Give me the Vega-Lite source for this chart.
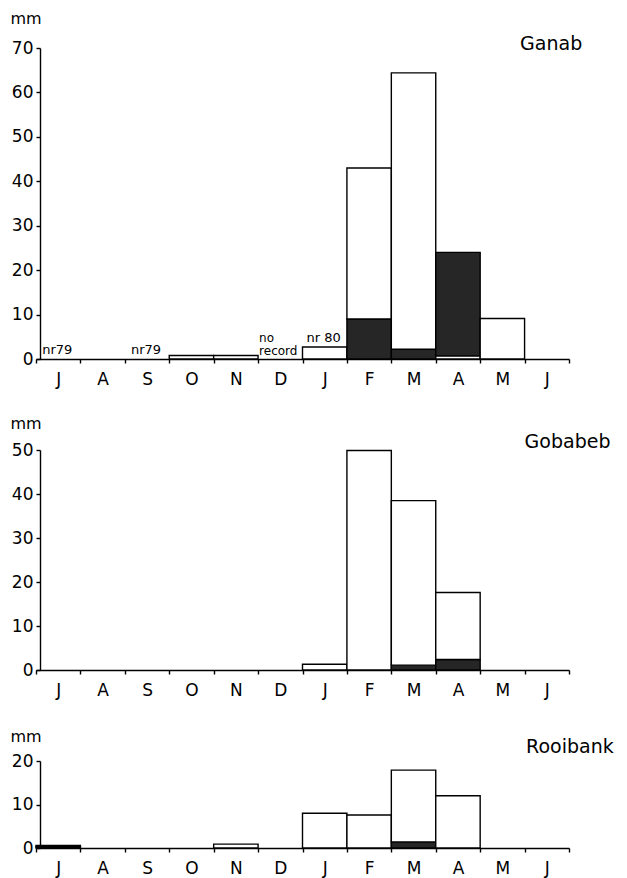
{
  "$schema": "https://vega.github.io/schema/vega-lite/v6.json",
  "background": "white",
  "padding": {"left": 10, "top": 10, "right": 5, "bottom": 5},
  "bounds": "flush",
  "spacing": 91,
  "resolve": {"scale": {"x": "independent", "y": "independent"}},
  "config": {
    "view": {"stroke": null},
    "font": "DejaVu Sans",
    "axis": {
      "domainColor": "black", "domainWidth": 1.4,
      "tickColor": "black", "tickWidth": 1.4, "tickSize": 4,
      "labelColor": "black", "labelFont": "DejaVu Sans", "labelFontSize": 17,
      "grid": false,
      "titleFont": "DejaVu Sans", "titleFontSize": 16, "titleFontWeight": "normal", "titleColor": "black"
    },
    "axisX": {"labelPadding": 8, "labelAngle": 0},
    "axisY": {"labelPadding": 3}
  },
  "datasets": {
    "bars": [
      {"s": "Ganab", "m": "Oct", "lo": 0, "hi": 0.8, "part": "light"},
      {"s": "Ganab", "m": "Nov", "lo": 0, "hi": 0.8, "part": "light"},
      {"s": "Ganab", "m": "Jan", "lo": 0, "hi": 2.7, "part": "light"},
      {"s": "Ganab", "m": "Feb", "lo": 0, "hi": 9, "part": "dark"},
      {"s": "Ganab", "m": "Feb", "lo": 9, "hi": 43, "part": "light"},
      {"s": "Ganab", "m": "Mar", "lo": 0, "hi": 2.2, "part": "dark"},
      {"s": "Ganab", "m": "Mar", "lo": 2.2, "hi": 64.4, "part": "light"},
      {"s": "Ganab", "m": "Apr", "lo": 0, "hi": 0.7, "part": "light"},
      {"s": "Ganab", "m": "Apr", "lo": 0.7, "hi": 24, "part": "dark"},
      {"s": "Ganab", "m": "May", "lo": 0, "hi": 9.1, "part": "light"},
      {"s": "Gobabeb", "m": "Jan", "lo": 0, "hi": 1.3, "part": "light"},
      {"s": "Gobabeb", "m": "Feb", "lo": 0, "hi": 49.9, "part": "light"},
      {"s": "Gobabeb", "m": "Mar", "lo": 0, "hi": 1.1, "part": "dark"},
      {"s": "Gobabeb", "m": "Mar", "lo": 1.1, "hi": 38.5, "part": "light"},
      {"s": "Gobabeb", "m": "Apr", "lo": 0, "hi": 2.4, "part": "dark"},
      {"s": "Gobabeb", "m": "Apr", "lo": 2.4, "hi": 17.6, "part": "light"},
      {"s": "Rooibank", "m": "Jul", "lo": 0, "hi": 0.3, "part": "dark"},
      {"s": "Rooibank", "m": "Jul", "lo": 0.3, "hi": 0.6, "part": "light"},
      {"s": "Rooibank", "m": "Nov", "lo": 0, "hi": 0.9, "part": "light"},
      {"s": "Rooibank", "m": "Jan", "lo": 0, "hi": 8.0, "part": "light"},
      {"s": "Rooibank", "m": "Feb", "lo": 0, "hi": 7.6, "part": "light"},
      {"s": "Rooibank", "m": "Mar", "lo": 0, "hi": 1.4, "part": "dark"},
      {"s": "Rooibank", "m": "Mar", "lo": 1.4, "hi": 17.9, "part": "light"},
      {"s": "Rooibank", "m": "Apr", "lo": 0, "hi": 12.0, "part": "light"}
    ],
    "notes": [
      {"m": "Jul", "mm": 0, "label": "nr79", "kind": "c"},
      {"m": "Sep", "mm": 0, "label": "nr79", "kind": "c"},
      {"m": "Jan", "mm": 2.7, "label": "nr 80", "kind": "c"},
      {"m": "Dec", "mm": 0, "label": "no\nrecord", "kind": "l"}
    ],
    "stations": [
      {"s": "Ganab", "m": "Jun", "mm": 70},
      {"s": "Gobabeb", "m": "Jun", "mm": 50},
      {"s": "Rooibank", "m": "Jun", "mm": 20}
    ]
  },
  "vconcat": [
    {
      "width": 533, "height": 311,
      "layer": [
        {
          "data": {"name": "bars"},
          "transform": [{"filter": "datum.s === 'Ganab'"}],
          "mark": {"type": "bar", "stroke": "black", "strokeWidth": 1.4},
          "encoding": {
            "x": {"field": "m", "type": "ordinal", "title": null,
              "scale": {"domain": ["Jul","Aug","Sep","Oct","Nov","Dec","Jan","Feb","Mar","Apr","May","Jun"], "paddingInner": 0, "paddingOuter": 0},
              "axis": {"tickBand": "extent", "labelExpr": "substring(datum.label, 0, 1)"}},
            "y": {"field": "hi", "type": "quantitative", "title": "mm",
              "scale": {"domain": [0, 70], "nice": false},
              "axis": {"values": [0,10,20,30,40,50,60,70], "offset": -4, "titleAngle": 0, "titleX": -30, "titleY": -25, "titleAlign": "left", "titleBaseline": "alphabetic"}},
            "y2": {"field": "lo"},
            "fill": {"field": "part", "type": "nominal", "scale": {"domain": ["light", "dark"], "range": ["white", "#262626"]}, "legend": null}
          }
        },
        {
          "data": {"name": "notes"},
          "transform": [{"filter": "datum.kind === 'c'"}],
          "mark": {"type": "text", "font": "DejaVu Sans", "fontSize": 13, "color": "black", "align": "center", "baseline": "bottom", "dx": -1, "dy": -2},
          "encoding": {
            "x": {"field": "m", "type": "ordinal", "title": null},
            "y": {"field": "mm", "type": "quantitative", "title": "mm"},
            "text": {"field": "label"}
          }
        },
        {
          "data": {"name": "notes"},
          "transform": [{"filter": "datum.kind === 'l'"}],
          "mark": {"type": "text", "font": "DejaVu Sans", "fontSize": 12, "color": "black", "align": "left", "baseline": "bottom", "dx": 1, "dy": -14, "lineBreak": "\n", "lineHeight": 12.5},
          "encoding": {
            "x": {"field": "m", "type": "ordinal", "title": null, "bandPosition": 0},
            "y": {"field": "mm", "type": "quantitative", "title": "mm"},
            "text": {"field": "label"}
          }
        },
        {
          "data": {"name": "stations"},
          "transform": [{"filter": "datum.s === 'Ganab'"}],
          "mark": {"type": "text", "font": "DejaVu Sans", "fontSize": 19, "color": "black", "align": "left", "baseline": "alphabetic", "dx": -4.5, "dy": 2},
          "encoding": {
            "x": {"field": "m", "type": "ordinal", "title": null, "bandPosition": 0},
            "y": {"field": "mm", "type": "quantitative", "title": "mm"},
            "text": {"field": "s"}
          }
        }
      ]
    },
    {
      "width": 533, "height": 220,
      "layer": [
        {
          "data": {"name": "bars"},
          "transform": [{"filter": "datum.s === 'Gobabeb'"}],
          "mark": {"type": "bar", "stroke": "black", "strokeWidth": 1.4},
          "encoding": {
            "x": {"field": "m", "type": "ordinal", "title": null,
              "scale": {"domain": ["Jul","Aug","Sep","Oct","Nov","Dec","Jan","Feb","Mar","Apr","May","Jun"], "paddingInner": 0, "paddingOuter": 0},
              "axis": {"tickBand": "extent", "labelExpr": "substring(datum.label, 0, 1)"}},
            "y": {"field": "hi", "type": "quantitative", "title": "mm",
              "scale": {"domain": [0, 50], "nice": false},
              "axis": {"values": [0,10,20,30,40,50], "offset": -4, "titleAngle": 0, "titleX": -30, "titleY": -22, "titleAlign": "left", "titleBaseline": "alphabetic"}},
            "y2": {"field": "lo"},
            "fill": {"field": "part", "type": "nominal", "scale": {"domain": ["light", "dark"], "range": ["white", "#111111"]}, "legend": null}
          }
        },
        {
          "data": {"name": "stations"},
          "transform": [{"filter": "datum.s === 'Gobabeb'"}],
          "mark": {"type": "text", "font": "DejaVu Sans", "fontSize": 19, "color": "black", "align": "left", "baseline": "alphabetic", "dx": 0, "dy": -2},
          "encoding": {
            "x": {"field": "m", "type": "ordinal", "title": null, "bandPosition": 0},
            "y": {"field": "mm", "type": "quantitative", "title": "mm"},
            "text": {"field": "s"}
          }
        }
      ]
    },
    {
      "width": 533, "height": 87,
      "layer": [
        {
          "data": {"name": "bars"},
          "transform": [{"filter": "datum.s === 'Rooibank'"}],
          "mark": {"type": "bar", "stroke": "black", "strokeWidth": 1.4},
          "encoding": {
            "x": {"field": "m", "type": "ordinal", "title": null,
              "scale": {"domain": ["Jul","Aug","Sep","Oct","Nov","Dec","Jan","Feb","Mar","Apr","May","Jun"], "paddingInner": 0, "paddingOuter": 0},
              "axis": {"tickBand": "extent", "labelExpr": "substring(datum.label, 0, 1)"}},
            "y": {"field": "hi", "type": "quantitative", "title": "mm",
              "scale": {"domain": [0, 20], "nice": false},
              "axis": {"values": [0,10,20], "offset": -4, "titleAngle": 0, "titleX": -30, "titleY": -20, "titleAlign": "left", "titleBaseline": "alphabetic"}},
            "y2": {"field": "lo"},
            "fill": {"field": "part", "type": "nominal", "scale": {"domain": ["light", "dark"], "range": ["white", "#444444"]}, "legend": null}
          }
        },
        {
          "data": {"name": "stations"},
          "transform": [{"filter": "datum.s === 'Rooibank'"}],
          "mark": {"type": "text", "font": "DejaVu Sans", "fontSize": 19, "color": "black", "align": "left", "baseline": "alphabetic", "dx": 1.5, "dy": -8},
          "encoding": {
            "x": {"field": "m", "type": "ordinal", "title": null, "bandPosition": 0},
            "y": {"field": "mm", "type": "quantitative", "title": "mm"},
            "text": {"field": "s"}
          }
        }
      ]
    }
  ]
}
